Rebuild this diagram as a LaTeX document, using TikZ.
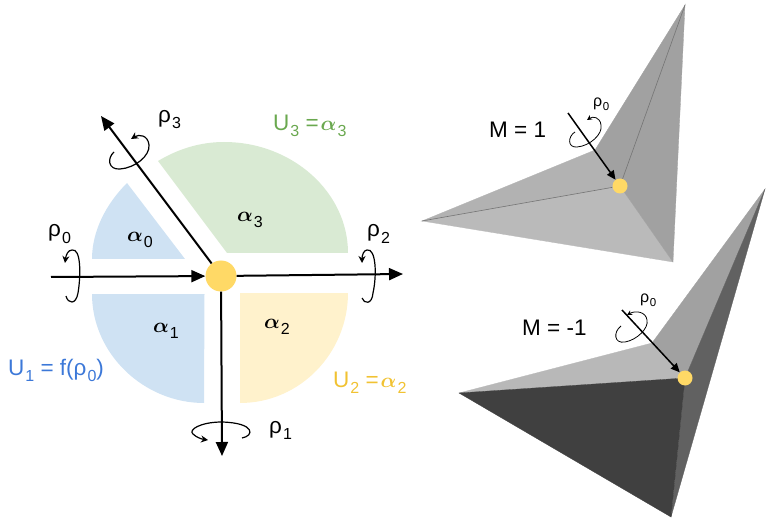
\documentclass[tikz,border=0pt]{standalone}
\usepackage{amsmath}
\usepackage{amssymb}
\usepackage{fontspec}
\setmainfont{Liberation Sans}
\usetikzlibrary{arrows.meta, positioning}

\definecolor{hubyellow}{HTML}{FFD966}
\definecolor{sectorblue}{HTML}{CFE2F3}
\definecolor{sectorgreen}{HTML}{D9EAD3}
\definecolor{sectoryellow}{HTML}{FFF2CC}
\definecolor{textblue}{HTML}{3C78D8}
\definecolor{textgreen}{HTML}{6AA84F}
\definecolor{textyellow}{HTML}{F1C232}

\newcommand{\lab}[2]{#1\kern1pt\raisebox{-6pt}{\fontsize{16}{16}\selectfont #2}}
\newcommand{\smalllab}[2]{#1\kern0.5pt\raisebox{-4pt}{\fontsize{11.5}{12}\selectfont #2}}
\newcommand{\balpha}{$\boldsymbol{\alpha}$}

\tikzset{
    txt/.style={anchor=base west, inner sep=0pt, font=\fontsize{22.5}{24}\selectfont},
    smalltxt/.style={anchor=base west, inner sep=0pt, font=\fontsize{16}{18}\selectfont},
    hub/.style={circle, fill=hubyellow, inner sep=0pt, minimum size=#1},
    face/.style={fill=#1, draw=#1, line width=0.3pt},
    axis/.style={line width=2pt, -{Triangle[length=14pt, width=12pt]}},
    smallaxis/.style={line width=1.5pt, -{Triangle[length=9pt, width=8pt]}},
    curl/.style={line width=1.2pt, -{Stealth[length=7pt, width=7pt]}},
    smallcurl/.style={line width=0.8pt, -{Stealth[length=5pt, width=5pt]}}
}

\begin{document}
\begin{tikzpicture}[x=1pt, y=-1pt]
    \useasboundingbox (0,0) rectangle (768,521);

    % sectors
    \fill [sectorblue] (92,259) .. controls (92,231) and (106,204) .. (127,183) -- (185,259) -- cycle;
    \fill [sectorblue] (92,294) -- (204.5,294) -- (204,403) .. controls (144,403) and (92,354) .. (92,294) -- cycle;
    \fill [sectoryellow] (240,293) -- (348,293) .. controls (348,353) and (300,403) .. (240,403) -- cycle;
    \fill [sectorgreen] (158,161) .. controls (178,149) and (200,142) .. (224,142)
        .. controls (292,142) and (348,192) .. (348,253) -- (227,253) -- cycle;

    % axes
    \node (hubL) [hub=31pt] at (221,276) {};
    \coordinate (r0) at (51,277);
    \coordinate (r1) at (222,456);
    \coordinate (r2) at (403,274);
    \coordinate (r3) at (101,116);
    \path [axis]
    (r0) edge (hubL)
    (hubL) edge (r1)
    (hubL) edge (r2)
    (hubL) edge (r3);

    % rotations
    \draw [curl] (66,296) .. controls (68,304) and (76,305) .. (78,293)
        .. controls (81,275) and (81,248) .. (72,250) .. controls (68,250) and (66,255) .. (65,263);
    \draw [curl] (362,298) .. controls (364,304) and (372,305) .. (373,293)
        .. controls (377,275) and (376,248) .. (367,250) .. controls (364,250) and (362,255) .. (362,263);
    \draw [curl] (242,438) .. controls (254,436) and (256,423) .. (222,422)
        .. controls (200,422) and (188,430) .. (193,434) .. controls (196,437) and (201,439) .. (208,440);
    \draw [curl] (114,152) .. controls (107,158) and (108,170) .. (120,169)
        .. controls (135,168) and (150,156) .. (149,145) .. controls (148,135) and (139,134) .. (131,139);

    \node (r0L) [txt] at (48,237) {\lab{ρ}{0}};
    \node (r1L) [txt] at (269,433) {\lab{ρ}{1}};
    \node (r2L) [txt] at (367,237) {\lab{ρ}{2}};
    \node (r3L) [txt] at (158,123) {\lab{ρ}{3}};

    \node (a0) [txt] at (127,242) {\lab{\balpha}{0}};
    \node (a1) [txt] at (153,332) {\lab{\balpha}{1}};
    \node (a2) [txt] at (264,328) {\lab{\balpha}{2}};
    \node (a3) [txt] at (237,222) {\lab{\balpha}{3}};

    \node (u1) [txt, text=textblue] at (8,375) {\lab{U}{1} = f(\lab{ρ}{0})\kern2pt};
    \node (u2) [txt, text=textyellow] at (333,387) {\lab{U}{2} =\kern2pt\lab{\balpha}{2}};
    \node (u3) [txt, text=textgreen] at (273,131) {\lab{U}{3} =\kern2pt\lab{\balpha}{3}};

    % upper solid
    \path [face=black!30] (422,221) -- (595,150) -- (620,186) -- cycle;
    \path [face=black!27] (422,221) -- (620,186) -- (673,262) -- cycle;
    \path [face=black!37] (595,150) -- (685,5) -- (620,186) -- cycle;
    \path [face=black!37] (685,5) -- (673,262) -- (620,186) -- cycle;
    \node (hubM) [hub=15pt] at (620,186) {};
    \draw [black!55, line width=0.6pt] (422,221) -- (hubM);
    \draw [black!55, line width=0.6pt] (685,5) -- (hubM);
    \coordinate (s0) at (568,113);
    \draw [smallaxis] (s0) -- (hubM);
    \draw [smallcurl] (575,132) .. controls (568,136) and (567,148) .. (577,147)
        .. controls (590,146) and (603,134) .. (601,125) .. controls (600,117) and (593,116) .. (587,120);
    \node (s0L) [smalltxt] at (593,107) {\smalllab{ρ}{0}};
    \node (m1) [txt] at (489,138) {M = 1};

    % lower solid
    \path [face=black!28] (459,393) -- (652,343) -- (685,378) -- cycle;
    \path [face=black!37] (652,343) -- (765,189) -- (685,378) -- cycle;
    \path [face=black!62] (765,189) -- (671,517) -- (685,378) -- cycle;
    \path [face=black!75] (459,393) -- (685,378) -- (671,517) -- cycle;
    \node (hubN) [hub=15pt] at (685,378) {};
    \coordinate (t0) at (622,310);
    \draw [smallaxis] (t0) -- (hubN);
    \draw [smallcurl] (621,326) .. controls (613,332) and (614,344) .. (625,342)
        .. controls (637,340) and (649,328) .. (647,320) .. controls (646,312) and (636,310) .. (627,315);
    \node (t0L) [smalltxt] at (640,302) {\smalllab{ρ}{0}};
    \node (m2) [txt] at (522,335) {M = -1};
\end{tikzpicture}
\end{document}
